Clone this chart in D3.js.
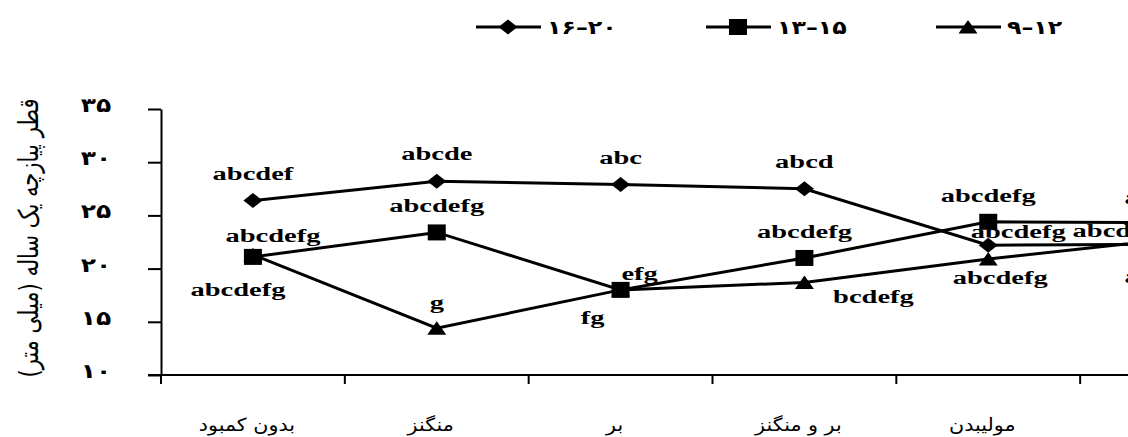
<!DOCTYPE html>
<meta charset="utf-8">
<html>
<head>
<title>line chart</title>
<script src="https://d3js.org/d3.v7.min.js"></script>
<style>
  body { margin: 0; background: #fff; }
  svg text.lat { font-family: "Liberation Serif", Tinos, "Times New Roman", Times, serif; font-weight: 700; }
</style>
</head>
<body>
<div id="chart"></div>
<script>
// data
var categories = ["بدون کمبود", "منگنز", "بر", "بر و منگنز", "مولیبدن", "روی"];
var seriesNames = ["۱۶–۲۰", "۱۳–۱۵", "۹–۱۲"];
var s1620 = [26.4, 28.2, 27.9, 27.5, 22.2, 22.3];
var s1315 = [21.1, 23.4, 18.0, 21.0, 24.4, 24.3];
var s912 = [21.3, 14.4, 18.0, 18.7, 20.9, 22.8];
var lbl1620 = ["abcdef", "abcde", "abc", "abcd", "abcdefg", "abcdefg"];
var lbl1315 = ["abcdefg", "abcdefg", "efg", "abcdefg", "abcdefg", "abcdefg"];
var lbl912 = ["abcdefg", "g", "fg", "bcdefg", "abcdefg", "abcdefg"];
var yTicks = [10, 15, 20, 25, 30, 35];
var yTickLabels = ["۱۰", "۱۵", "۲۰", "۲۵", "۳۰", "۳۵"];
var yTitle = "قطر پیازچه یک ساله (میلی متر)";

var FA = "DejaVu Sans";

var W = 1128, H = 437;
var svg = d3.select("#chart").append("svg")
  .attr("width", W).attr("height", H);

var x = d3.scaleBand().domain(categories).range([161, 1264]);
var y = d3.scaleLinear().domain([10, 35]).range([375, 109]);

// marker shapes (slightly wide, like the picture)
var markers = [
  "M-9.5,0L0,-7.5L9.5,0L0,7.5Z",
  "M-9,-8h18v16h-18Z",
  "M0,-7L9.5,6.5L-9.5,6.5Z"
];
var allSeries = [s1620, s1315, s912];
var allLabels = [lbl1620, lbl1315, lbl912];
// where each letter label sits relative to its point
var labelOffsets = [
  [[0, -27], [0, -28], [0, -27], [0, -27], [30, -14], [-52, -14]],
  [[20, -22], [0, -27], [19, -17], [0, -27], [0, -26], [0, -26]],
  [[-15, 35], [0, -26], [-28, 27], [69, 14], [12, 18], [0, 38]]
];

function cx(i) { return x(categories[i]) + x.bandwidth() / 2; }

// y axis
var yAxis = svg.append("g")
  .attr("transform", "translate(161,0)")
  .call(d3.axisLeft(y).tickValues(yTicks).tickSize(13).tickSizeOuter(0).tickFormat(""));
yAxis.selectAll("path, line").attr("stroke", "#000").attr("stroke-width", 2);

svg.selectAll(".ytl").data(yTicks).enter()
  .append("g")
  .attr("transform", function(d) { return "translate(96," + (y(d) - 4) + ") scale(1.25,1)"; })
  .append("text")
  .style("font-family", FA)
  .attr("font-weight", "bold")
  .attr("font-size", 20)
  .attr("text-anchor", "middle")
  .attr("dy", "0.35em")
  .text(function(d, i) { return yTickLabels[i]; });

svg.append("g")
  .attr("transform", "translate(28,238) rotate(-90) scale(1,1.3)")
  .append("text")
  .style("font-family", FA)
  .attr("font-size", 21)
  .attr("text-anchor", "middle")
  .attr("dy", "0.35em")
  .text(yTitle);

// x axis: line plus ticks on the band edges
svg.append("line")
  .attr("x1", 148).attr("x2", x.range()[1])
  .attr("y1", y(10)).attr("y2", y(10))
  .attr("stroke", "#000").attr("stroke-width", 2);
svg.selectAll(".xt").data(categories).enter()
  .append("line")
  .attr("x1", function(d) { return x(d); })
  .attr("x2", function(d) { return x(d); })
  .attr("y1", y(10)).attr("y2", y(10) + 9)
  .attr("stroke", "#000").attr("stroke-width", 2);

svg.selectAll(".xl").data(categories).enter()
  .append("g")
  .attr("transform", function(d, i) { return "translate(" + (cx(i) - 6) + ",425) scale(1.15,1)"; })
  .append("text")
  .style("font-family", FA)
  .attr("font-size", 18)
  .attr("text-anchor", "middle")
  .attr("dy", "0.35em")
  .text(function(d) { return d; });

// lines
var line = d3.line()
  .x(function(d, i) { return cx(i); })
  .y(function(d) { return y(d); });

allSeries.forEach(function(s, k) {
  svg.append("path")
    .datum(s)
    .attr("d", line)
    .attr("fill", "none")
    .attr("stroke", "#000")
    .attr("stroke-width", 3);
});

allSeries.forEach(function(s, k) {
  svg.selectAll(".m" + k).data(s).enter()
    .append("path")
    .attr("d", markers[k])
    .attr("transform", function(d, i) { return "translate(" + cx(i) + "," + y(d) + ")"; })
    .attr("fill", "#000");
});

// letter labels
allSeries.forEach(function(s, k) {
  svg.selectAll(".l" + k).data(s).enter()
    .append("g")
    .attr("transform", function(d, i) {
      return "translate(" + (cx(i) + labelOffsets[k][i][0]) + "," + (y(d) + labelOffsets[k][i][1]) + ") scale(1.5,1)";
    })
    .append("text")
    .attr("class", "lat")
    .attr("font-size", 19)
    .attr("text-anchor", "middle")
    .attr("dy", "0.35em")
    .text(function(d, i) { return allLabels[k][i]; });
});

// legend
var legX = [476, 706, 936];
seriesNames.forEach(function(name, k) {
  var g = svg.append("g").attr("transform", "translate(" + legX[k] + ",27)");
  g.append("line").attr("x1", 0).attr("x2", 65).attr("y1", 0).attr("y2", 0)
    .attr("stroke", "#000").attr("stroke-width", 3);
  g.append("path").attr("d", markers[k]).attr("transform", "translate(32,0)").attr("fill", "#000");
  g.append("g").attr("transform", "translate(71,0) scale(1.25,1)")
    .append("text")
    .style("font-family", FA)
    .attr("font-weight", "bold")
    .attr("font-size", 19)
    .attr("dy", "0.35em")
    .text(name);
});
</script>
</body>
</html>
